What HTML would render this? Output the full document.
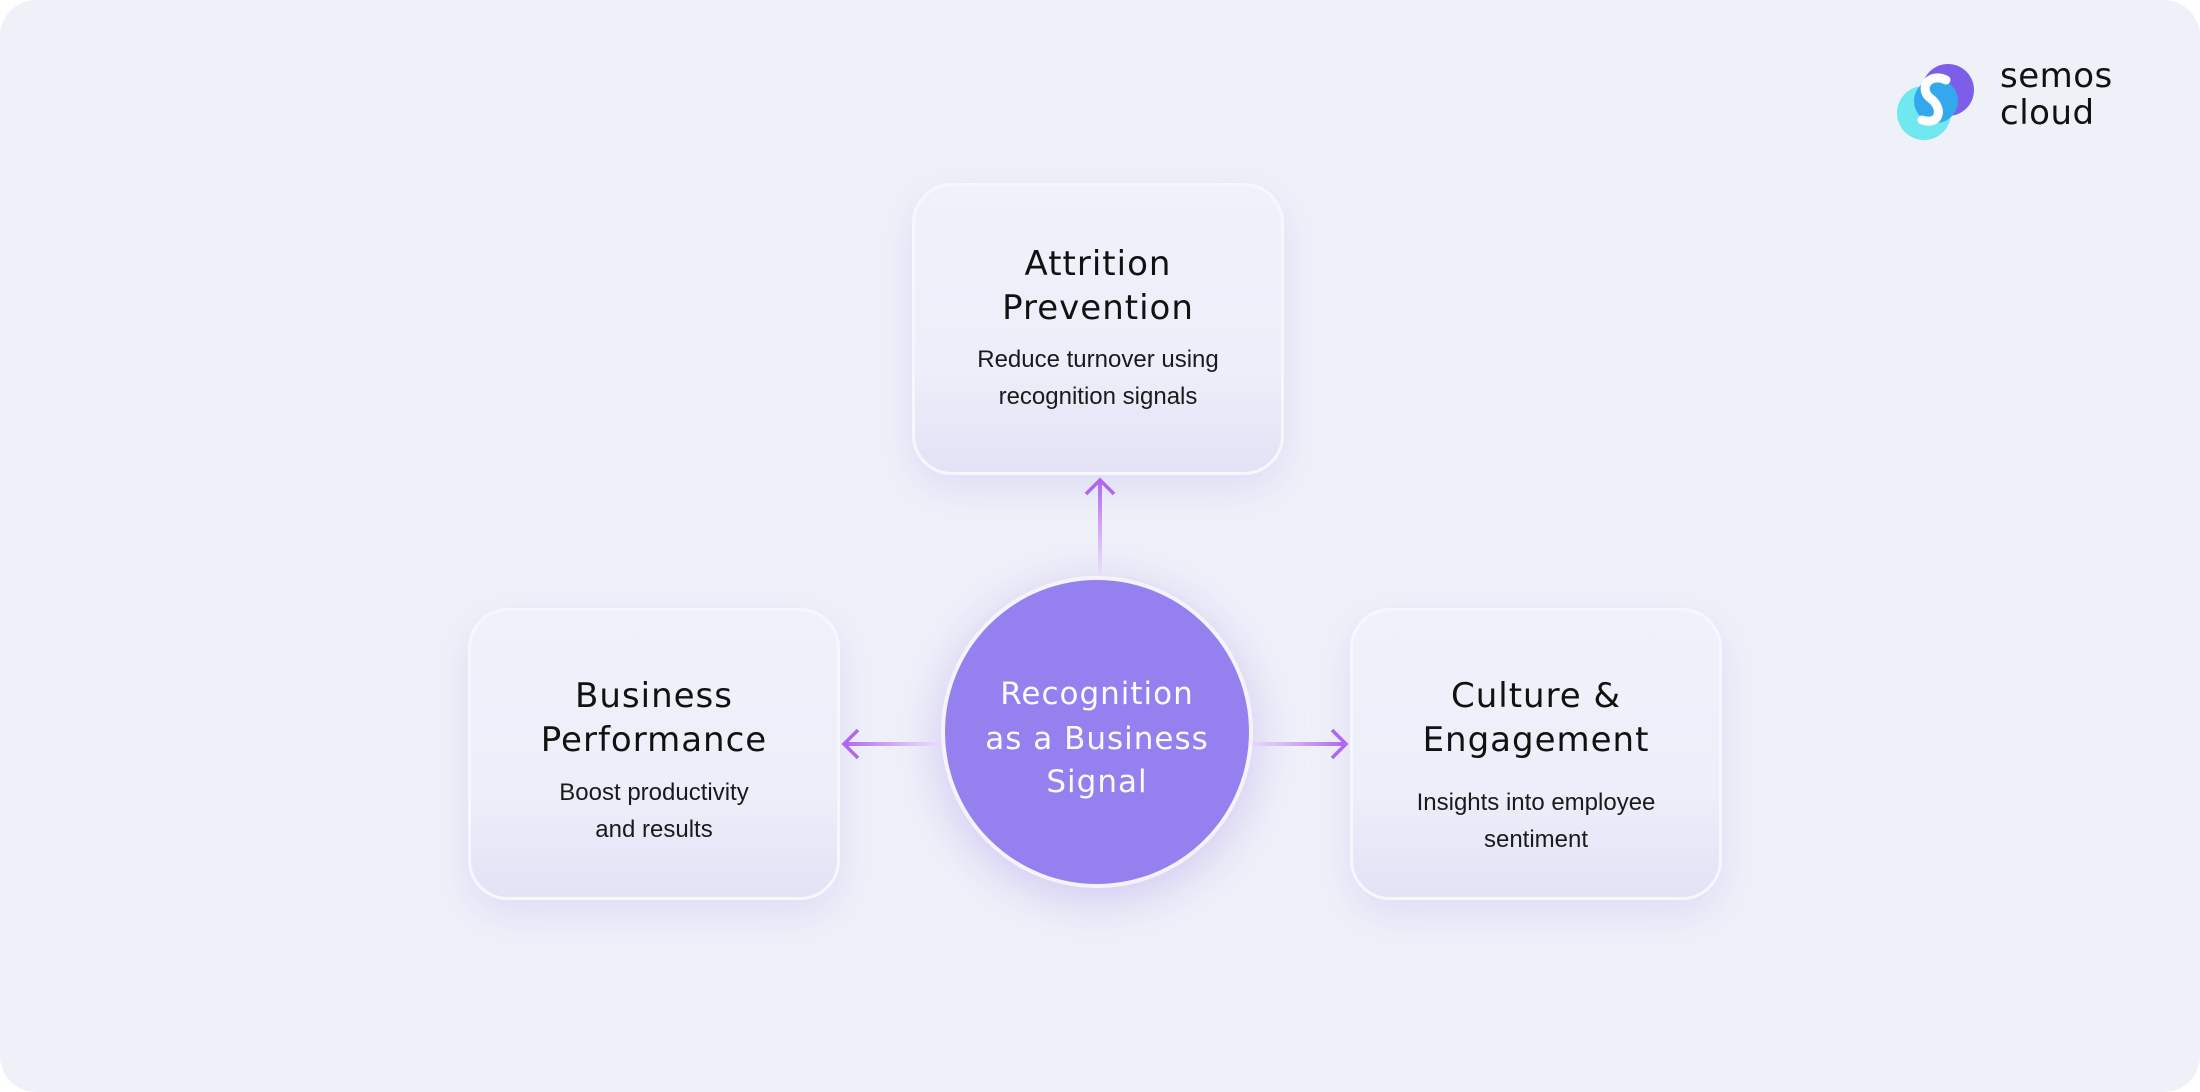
<!DOCTYPE html>
<html><head><style>
html,body{margin:0;padding:0;background:#fff;}
#bg{position:absolute;left:0;top:0;width:2200px;height:1092px;background:#eff1f9;border-radius:36px;overflow:hidden;font-family:"DejaVu Sans","Liberation Sans",sans-serif;}
.card{position:absolute;width:366px;height:286px;border-radius:40px;background:linear-gradient(180deg,#f0f1fa 0%,#eceef9 65%,#e3e2f6 100%);border:3px solid #f6f7fd;box-shadow:0 14px 40px rgba(160,150,230,0.22);text-align:center;color:#111;}
.t{position:absolute;left:0;right:0;font-size:34px;letter-spacing:1px;font-weight:500;line-height:44px;}
.s{position:absolute;left:0;right:0;font-family:"Liberation Sans",sans-serif;font-size:24px;line-height:37px;color:#1a1a1a;}
#circ{position:absolute;left:941px;top:576px;width:304px;height:304px;border-radius:50%;background:#9480ef;border:4px solid #f5f3fd;box-shadow:0 10px 50px rgba(150,120,230,0.35);color:#fafaff;text-align:center;}
#circ div{position:absolute;left:0;right:0;font-size:31px;letter-spacing:1px;line-height:44px;font-weight:normal;}
</style></head><body>
<div id="bg">
<div class="card" style="left:912px;top:183px;">
 <div class="t" style="top:56px">Attrition<br>Prevention</div>
 <div class="s" style="top:155px">Reduce turnover using<br>recognition signals</div>
</div>
<div class="card" style="left:468px;top:608px;">
 <div class="t" style="top:63px">Business<br>Performance</div>
 <div class="s" style="top:163px">Boost productivity<br>and results</div>
</div>
<div class="card" style="left:1350px;top:608px;">
 <div class="t" style="top:63px">Culture &amp;<br>Engagement</div>
 <div class="s" style="top:173px">Insights into employee<br>sentiment</div>
</div>
<svg width="2200" height="1092" style="position:absolute;left:0;top:0">
<defs>
<linearGradient id="gv" x1="0" y1="1" x2="0" y2="0"><stop offset="0" stop-color="#f3ecfd"/><stop offset="1" stop-color="#b066ee"/></linearGradient>
<linearGradient id="gl" x1="1" y1="0" x2="0" y2="0"><stop offset="0" stop-color="#f3ecfd"/><stop offset="1" stop-color="#b066ee"/></linearGradient>
<linearGradient id="gr" x1="0" y1="0" x2="1" y2="0"><stop offset="0" stop-color="#f3ecfd"/><stop offset="1" stop-color="#b066ee"/></linearGradient>
</defs>
<rect x="1098" y="480" width="4" height="96" fill="url(#gv)"/>
<polyline points="1086,494 1100,480 1114,494" fill="none" stroke="#b066ee" stroke-width="3.5"/>
<rect x="844" y="742" width="96" height="4" fill="url(#gl)"/>
<polyline points="858,730 844,744 858,758" fill="none" stroke="#b066ee" stroke-width="3.5"/>
<rect x="1249" y="742" width="96" height="4" fill="url(#gr)"/>
<polyline points="1332,730 1346,744 1332,758" fill="none" stroke="#b066ee" stroke-width="3.5"/>
<circle cx="1948" cy="90" r="26" fill="#7c5ee8"/>
<circle cx="1924" cy="113" r="27" fill="#6fe8f0"/>
<circle cx="1936" cy="101" r="22" fill="#33a8ec"/>
<path d="M1946,80 C1930,72 1918,88 1930,98 C1944,108 1940,126 1922,120" fill="none" stroke="#fff" stroke-width="9" stroke-linecap="round"/>
</svg>
<div style="position:absolute;left:2000px;top:58px;font-size:34px;line-height:37px;color:#111;letter-spacing:0.5px">semos<br>cloud</div>
<div id="circ">
 <div style="top:92px">Recognition</div>
 <div style="top:137px">as a Business</div>
 <div style="top:180px">Signal</div>
</div>
</div>
</body></html>
